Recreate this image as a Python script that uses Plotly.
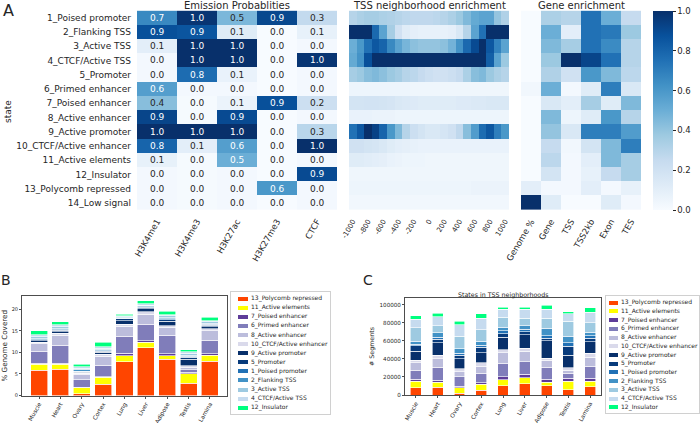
import plotly.graph_objects as go

FONT = "DejaVu Sans"
TXT = "#262626"
W, H = 700, 423

# ---------------- data ----------------
states = ["1_Poised promoter", "2_Flanking TSS", "3_Active TSS", "4_CTCF/Active TSS",
          "5_Promoter", "6_Primed enhancer", "7_Poised enhancer", "8_Active enhancer",
          "9_Active promoter", "10_CTCF/Active enhancer", "11_Active elements",
          "12_Insulator", "13_Polycomb repressed", "14_Low signal"]
marks = ["H3K4me1", "H3K4me3", "H3K27ac", "H3K27me3", "CTCF"]
emission = [
    [0.66, 0.98, 0.46, 0.91, 0.26],
    [0.88, 0.86, 0.12, 0.00, 0.08],
    [0.10, 1.00, 1.00, 0.00, 0.02],
    [0.02, 1.00, 1.00, 0.00, 0.98],
    [0.02, 0.77, 0.07, 0.00, 0.02],
    [0.57, 0.02, 0.02, 0.00, 0.02],
    [0.43, 0.01, 0.06, 0.88, 0.22],
    [0.92, 0.01, 0.90, 0.00, 0.02],
    [1.00, 1.00, 1.00, 0.00, 0.29],
    [0.80, 0.10, 0.57, 0.00, 1.00],
    [0.08, 0.01, 0.50, 0.00, 0.02],
    [0.02, 0.01, 0.02, 0.00, 0.90],
    [0.02, 0.01, 0.02, 0.60, 0.02],
    [0.02, 0.01, 0.02, 0.00, 0.02],
]

tss_pos = [-1000, -900, -800, -700, -600, -500, -400, -300, -200, -100, 0,
           100, 200, 300, 400, 500, 600, 700, 800, 900, 1000]
tss_ticks = [-1000, -800, -600, -400, -200, 0, 200, 400, 600, 800, 1000]
tss = [
    [0.30, 0.33, 0.35, 0.35, 0.33, 0.32, 0.30, 0.28, 0.27, 0.27, 0.27, 0.28, 0.30, 0.33, 0.38, 0.45, 0.52, 0.55, 0.55, 0.40, 0.32],
    [1.00, 1.00, 1.00, 0.78, 0.55, 0.35, 0.20, 0.12, 0.09, 0.08, 0.08, 0.08, 0.08, 0.09, 0.15, 0.30, 0.55, 0.75, 1.00, 1.00, 1.00],
    [0.50, 0.60, 0.75, 0.85, 0.80, 0.66, 0.55, 0.47, 0.42, 0.40, 0.40, 0.40, 0.42, 0.48, 0.62, 0.78, 0.90, 1.00, 0.85, 0.68, 0.55],
    [0.52, 0.62, 0.88, 1.00, 1.00, 1.00, 1.00, 1.00, 1.00, 1.00, 1.00, 1.00, 1.00, 1.00, 1.00, 1.00, 1.00, 1.00, 0.82, 0.55, 0.38],
    [0.35, 0.38, 0.43, 0.45, 0.42, 0.38, 0.35, 0.30, 0.28, 0.25, 0.22, 0.20, 0.20, 0.22, 0.25, 0.33, 0.43, 0.45, 0.38, 0.33, 0.30],
    [0.05, 0.05, 0.05, 0.05, 0.05, 0.05, 0.05, 0.05, 0.04, 0.04, 0.04, 0.04, 0.04, 0.04, 0.04, 0.04, 0.04, 0.04, 0.04, 0.04, 0.04],
    [0.18, 0.18, 0.19, 0.19, 0.18, 0.17, 0.15, 0.14, 0.13, 0.12, 0.12, 0.12, 0.12, 0.12, 0.13, 0.13, 0.14, 0.14, 0.15, 0.15, 0.15],
    [0.07, 0.07, 0.07, 0.06, 0.06, 0.06, 0.05, 0.05, 0.05, 0.05, 0.05, 0.05, 0.05, 0.05, 0.05, 0.05, 0.05, 0.05, 0.05, 0.05, 0.05],
    [0.75, 0.85, 1.00, 0.93, 0.80, 0.60, 0.45, 0.30, 0.22, 0.18, 0.15, 0.15, 0.17, 0.20, 0.27, 0.43, 0.58, 0.77, 0.85, 0.70, 0.60],
    [0.20, 0.20, 0.18, 0.17, 0.15, 0.12, 0.10, 0.09, 0.08, 0.07, 0.07, 0.07, 0.07, 0.07, 0.07, 0.07, 0.07, 0.07, 0.07, 0.07, 0.07],
    [0.12, 0.12, 0.11, 0.10, 0.09, 0.07, 0.06, 0.05, 0.05, 0.05, 0.04, 0.04, 0.04, 0.04, 0.04, 0.04, 0.04, 0.04, 0.04, 0.04, 0.04],
    [0.04, 0.04, 0.04, 0.04, 0.04, 0.04, 0.04, 0.04, 0.04, 0.04, 0.04, 0.04, 0.04, 0.04, 0.04, 0.04, 0.04, 0.04, 0.04, 0.04, 0.04],
    [0.05, 0.05, 0.05, 0.05, 0.05, 0.05, 0.05, 0.05, 0.05, 0.05, 0.05, 0.05, 0.05, 0.05, 0.05, 0.05, 0.06, 0.06, 0.06, 0.06, 0.06],
    [0.03, 0.03, 0.03, 0.03, 0.03, 0.03, 0.03, 0.03, 0.03, 0.03, 0.03, 0.03, 0.03, 0.03, 0.03, 0.03, 0.03, 0.03, 0.03, 0.03, 0.03],
]

gene_cols = ["Genome %", "Gene", "TSS", "TSS2kb", "Exon", "TES"]
gene = [
    [0.00, 0.33, 0.30, 0.75, 0.50, 0.25],
    [0.00, 0.50, 0.10, 0.75, 0.72, 0.38],
    [0.00, 0.45, 0.35, 0.75, 0.65, 0.30],
    [0.00, 0.38, 1.00, 0.92, 0.75, 0.30],
    [0.00, 0.32, 0.20, 0.60, 0.45, 0.28],
    [0.03, 0.50, 0.02, 0.12, 0.70, 0.15],
    [0.00, 0.15, 0.10, 0.35, 0.12, 0.45],
    [0.00, 0.45, 0.05, 0.12, 0.60, 0.30],
    [0.00, 0.40, 0.15, 0.70, 0.70, 0.58],
    [0.00, 0.25, 0.03, 0.18, 0.45, 0.70],
    [0.00, 0.28, 0.02, 0.10, 0.45, 0.35],
    [0.00, 0.18, 0.02, 0.08, 0.25, 0.35],
    [0.10, 0.02, 0.02, 0.10, 0.02, 0.08],
    [1.00, 0.12, 0.00, 0.00, 0.12, 0.02],
]
cbar_ticks = [0.0, 0.2, 0.4, 0.6, 0.8, 1.0]

tissues = ["Muscle", "Heart", "Ovary", "Cortex", "Lung", "Liver", "Adipose", "Testis", "Lamina"]
stack_states = ["13_Polycomb repressed", "11_Active elements", "7_Poised enhancer",
                "6_Primed enhancer", "8_Active enhancer", "10_CTCF/Active enhancer",
                "9_Active promoter", "5_Promoter", "1_Poised promoter", "2_Flanking TSS",
                "3_Active TSS", "4_CTCF/Active TSS", "12_Insulator"]
stack_colors = ["#ff4500", "#ffff00", "#5e3c99", "#807dba", "#bcbddc", "#dadaeb",
                "#08306b", "#083b7c", "#2171b5", "#4292c6", "#9ecae1", "#c6dbef", "#00ff7f"]

# % genome covered, per tissue, in stack order
pct_muscle = [5.9, 1.3, 0.3, 2.8, 1.7, 0.4, 0.3, 0.2, 0.1, 0.2, 0.4, 0.5, 0.9]
pct_heart = [6.1, 1.1, 0.3, 4.2, 2.3, 0.4, 0.4, 0.4, 0.1, 0.2, 0.5, 0.4, 0.7]
pct_ovary = [0.4, 1.4, 0.15, 1.65, 1.2, 0.4, 0.15, 0.15, 0.1, 0.35, 0.4, 0.3, 0.55]
pct_cortex = [2.6, 1.6, 0.1, 2.7, 2.1, 0.5, 0.4, 0.3, 0.1, 0.3, 0.3, 0.3, 1.1]
pct_lung = [7.8, 1.4, 0.6, 4.0, 2.3, 0.5, 0.7, 0.5, 0.1, 0.2, 0.2, 0.2, 0.4]
pct_liver = [11.1, 1.3, 0.3, 3.8, 2.4, 0.5, 0.7, 0.4, 0.1, 0.2, 0.2, 0.3, 0.7]
pct_adipose = [8.4, 0.8, 0.5, 4.3, 1.8, 0.4, 1.0, 0.4, 0.2, 0.3, 0.4, 0.3, 0.8]
pct_testis = [2.8, 2.3, 0.3, 0.6, 0.6, 0.3, 1.5, 0.5, 0.2, 0.3, 0.4, 0.4, 0.4]
pct_lamina = [7.9, 1.4, 0.4, 3.1, 2.2, 0.5, 0.5, 0.3, 0.2, 0.3, 0.3, 0.3, 0.8]

# number of segments in TSS neighborhoods, per tissue, in stack order
seg_muscle = [8000, 7000, 2500, 10000, 8000, 3000, 10000, 6000, 2000, 3000, 15000, 9500, 4000]
seg_heart = [8500, 5500, 2500, 14500, 9000, 4000, 14000, 4000, 2000, 5000, 8000, 10000, 3500]
seg_ovary = [2000, 6000, 1500, 10500, 6000, 3000, 11000, 4000, 2000, 5000, 14000, 13000, 4000]
seg_cortex = [5000, 7000, 1500, 10500, 8000, 3500, 11500, 6000, 2000, 4500, 13000, 12500, 5000]
seg_lung = [10000, 7000, 3500, 14500, 12000, 3000, 14000, 4000, 3000, 4000, 11000, 9000, 2500]
seg_liver = [12500, 6500, 4000, 14000, 11500, 3500, 15000, 3000, 3000, 4000, 8000, 10000, 2500]
seg_adipose = [10000, 4000, 3500, 13500, 7500, 2500, 19000, 3000, 2500, 8500, 11000, 10000, 4500]
seg_testis = [6000, 9000, 3500, 5500, 3500, 2500, 14000, 10000, 4000, 7000, 17000, 8000, 2500]
seg_lamina = [9000, 6000, 3500, 13500, 10000, 4500, 12500, 4000, 2500, 4000, 10500, 11500, 5000]

pct_by_tissue = [pct_muscle, pct_heart, pct_ovary, pct_cortex, pct_lung,
                 pct_liver, pct_adipose, pct_testis, pct_lamina]
seg_by_tissue = [seg_muscle, seg_heart, seg_ovary, seg_cortex, seg_lung,
                 seg_liver, seg_adipose, seg_testis, seg_lamina]

blues = ["#f7fbff", "#deebf7", "#c6dbef", "#9ecae1", "#6baed6",
         "#4292c6", "#2171b5", "#08519c", "#08306b"]
colorscale = [[i / (len(blues) - 1), c] for i, c in enumerate(blues)]


# ---------------- helpers ----------------
def dx(a, b):
    return [a / W, b / W]


def dy(top, bottom):
    return [1 - bottom / H, 1 - top / H]


fig = go.Figure()

# ---------------- panel A heatmaps ----------------
fig.add_trace(go.Heatmap(z=emission, x=marks, y=states, coloraxis="coloraxis",
                         xaxis="x", yaxis="y", hoverinfo="skip"))
fig.add_trace(go.Heatmap(z=tss, x=tss_pos, y=states, coloraxis="coloraxis",
                         xaxis="x2", yaxis="y2", hoverinfo="skip"))
fig.add_trace(go.Heatmap(z=gene, x=gene_cols, y=states, coloraxis="coloraxis",
                         xaxis="x3", yaxis="y3", hoverinfo="skip"))

# cell value labels (white on dark cells, dark on light cells)
for r, st in enumerate(states):
    for c, mk in enumerate(marks):
        v = emission[r][c]
        fig.add_annotation(x=mk, y=st, xref="x", yref="y", text=f"{v:.1f}",
                           showarrow=False,
                           font=dict(size=9, family=FONT,
                                     color="white" if v >= 0.48 else TXT))

A_TOP, A_BOT = 10.6, 210.0
heat_y = dict(autorange="reversed", showgrid=False, zeroline=False, showline=False,
              ticks="", domain=dy(A_TOP, A_BOT))
tick_font = dict(size=8.5, family=FONT, color=TXT)

fig.update_layout(
    xaxis=dict(domain=dx(137, 337), showgrid=False, zeroline=False, ticks="",
               tickangle=-60, tickfont=tick_font, anchor="y", ticklabelstandoff=4),
    yaxis=dict(**heat_y, tickfont=dict(size=9, family=FONT, color=TXT), anchor="x",
               ticklabelstandoff=5),
    xaxis2=dict(domain=dx(349, 509), showgrid=False, zeroline=False, ticks="",
                tickangle=-60, tickfont=dict(size=7, family=FONT, color=TXT),
                anchor="y2", tickvals=tss_ticks, ticktext=[str(v) for v in tss_ticks],
                range=[tss_pos[0] - 50, tss_pos[-1] + 50], ticklabelstandoff=5),
    yaxis2=dict(**heat_y, showticklabels=False, anchor="x2"),
    xaxis3=dict(domain=dx(521, 641), showgrid=False, zeroline=False, ticks="",
                tickangle=-60, tickfont=tick_font, anchor="y3", ticklabelstandoff=4),
    yaxis3=dict(**heat_y, showticklabels=False, anchor="x3"),
    coloraxis=dict(
        colorscale=colorscale, cmin=0, cmax=1,
        colorbar=dict(x=653 / W, xanchor="left", y=1 - A_BOT / H, yanchor="bottom",
                      len=(A_BOT - A_TOP) / H, lenmode="fraction",
                      thickness=20, thicknessmode="pixels", outlinewidth=0,
                      ticks="outside", ticklen=3, tickcolor=TXT,
                      tickvals=cbar_ticks, ticktext=[f"{v:.1f}" for v in cbar_ticks],
                      tickfont=dict(size=8.5, family=FONT, color=TXT),
                      xpad=0, ypad=0),
    ),
)

# ---------------- panel B ----------------
B_L, B_R, B_T, B_B = 22, 227, 296, 395.5
for i, (st, col) in enumerate(zip(stack_states, stack_colors)):
    fig.add_trace(go.Bar(x=tissues, y=[t[i] for t in pct_by_tissue], name=st,
                         marker=dict(color=col, line=dict(color="white", width=0.6)),
                         width=0.8, xaxis="x4", yaxis="y4", showlegend=False,
                         hoverinfo="skip"))

xsmall = dict(size=5.8, family=FONT, color=TXT)
box = dict(showline=True, mirror=True, linecolor="#4d4d4d", linewidth=1,
           showgrid=False, zeroline=False)
fig.update_layout(
    barmode="stack",
    xaxis4=dict(domain=dx(B_L, B_R), range=[-0.8, 8.8], tickangle=-60, tickfont=xsmall,
                ticks="outside", ticklen=2, tickcolor="#4d4d4d", anchor="y4", **box),
    yaxis4=dict(domain=dy(B_T, B_B), range=[0, 23.1], tickvals=[0, 5, 10, 15, 20],
                tickfont=dict(size=5, family=FONT, color=TXT), ticks="outside",
                ticklen=2, tickcolor="#4d4d4d", anchor="x4", **box,
                title=dict(text="% Genome Covered",
                           font=dict(size=7.2, family=FONT, color=TXT), standoff=4)),
)

# ---------------- panel C ----------------
C_L, C_R, C_T, C_B = 405, 601, 298, 395
for i, (st, col) in enumerate(zip(stack_states, stack_colors)):
    fig.add_trace(go.Bar(x=tissues, y=[t[i] for t in seg_by_tissue], name=st,
                         marker=dict(color=col, line=dict(color="white", width=0.6)),
                         width=0.5, xaxis="x6", yaxis="y6", showlegend=False,
                         hoverinfo="skip"))
fig.update_layout(
    xaxis6=dict(domain=dx(C_L, C_R), range=[-0.5, 8.5], tickangle=-60, tickfont=xsmall,
                ticks="outside", ticklen=2, tickcolor="#4d4d4d", anchor="y6", **box),
    yaxis6=dict(domain=dy(C_T, C_B), range=[0, 107500],
                tickvals=[0, 20000, 40000, 60000, 80000, 100000],
                ticktext=["0", "20000", "40000", "60000", "80000", "100000"],
                tickfont=dict(size=5.6, family=FONT, color=TXT), ticks="outside",
                ticklen=2, tickcolor="#4d4d4d", anchor="x6", **box,
                title=dict(text="# Segments", font=dict(size=6.3, family=FONT, color=TXT),
                           standoff=4)),
)


# ---------------- legends (swatch + text, built from the state lists) ----------------
def add_legend(xa, ya, left, right, top, bottom, first, step, sw_l, sw_w, txt_x):
    n = len(stack_states)
    idx = list(range(n))
    fig.add_trace(go.Bar(y=idx, x=[sw_w] * n, base=sw_l, orientation="h",
                         marker=dict(color=stack_colors, line=dict(width=0)),
                         width=4 / step, xaxis=xa, yaxis=ya, showlegend=False,
                         hoverinfo="skip"))
    fig.add_trace(go.Scatter(y=idx, x=[txt_x] * n, text=stack_states, mode="text",
                             textposition="middle right", cliponaxis=False,
                             textfont=dict(size=6, family=FONT, color=TXT),
                             xaxis=xa, yaxis=ya, showlegend=False, hoverinfo="skip"))
    lo = (top - first) / step
    hi = (bottom - first) / step
    lbox = dict(showline=True, mirror=True, linecolor="#d0d0d0", linewidth=1,
                showgrid=False, zeroline=False, showticklabels=False, ticks="")
    fig.layout[xa.replace("x", "xaxis")] = dict(domain=dx(left, right),
                                                range=[0, right - left],
                                                anchor=ya, **lbox)
    fig.layout[ya.replace("y", "yaxis")] = dict(domain=dy(top, bottom),
                                                range=[hi, lo], anchor=xa, **lbox)


add_legend("x5", "y5", 231, 330, 292, 414, 298.7, 9.08, 7, 10, 20)
add_legend("x7", "y7", 606, 699, 296, 413, 302.7, 8.72, 3, 9, 15)

# ---------------- annotations ----------------
ann = [
    dict(text="Emission Probablities", x=237 / W, y=1 - 5.5 / H, size=10),
    dict(text="TSS neighborhood enrichment", x=429 / W, y=1 - 5.5 / H, size=10),
    dict(text="Gene enrichment", x=581 / W, y=1 - 5.5 / H, size=10),
    dict(text="States in TSS neighborhoods", x=503 / W, y=1 - 294.5 / H, size=6.3),
    dict(text="A", x=8 / W, y=1 - 10 / H, size=16),
    dict(text="B", x=6 / W, y=1 - 280 / H, size=14),
    dict(text="C", x=368 / W, y=1 - 280 / H, size=14),
]
for a in ann:
    fig.add_annotation(text=a["text"], x=a["x"], y=a["y"], xref="paper", yref="paper",
                       xanchor="center", yanchor="middle", showarrow=False,
                       font=dict(size=a["size"], family=FONT, color=TXT))
fig.add_annotation(text="state", x=8 / W, y=1 - 112 / H, xref="paper", yref="paper",
                   textangle=-90, showarrow=False, xanchor="center", yanchor="middle",
                   font=dict(size=9, family=FONT, color=TXT))

fig.update_layout(width=W, height=H,
                  margin=dict(l=0, r=0, t=0, b=0, pad=0, autoexpand=False),
                  paper_bgcolor="white", plot_bgcolor="white",
                  font=dict(family=FONT, color=TXT), showlegend=False)

fig.write_html("out.html", config={"displayModeBar": False},
               post_script="document.body.style.margin='0';"
                           "document.body.style.overflow='hidden';")
